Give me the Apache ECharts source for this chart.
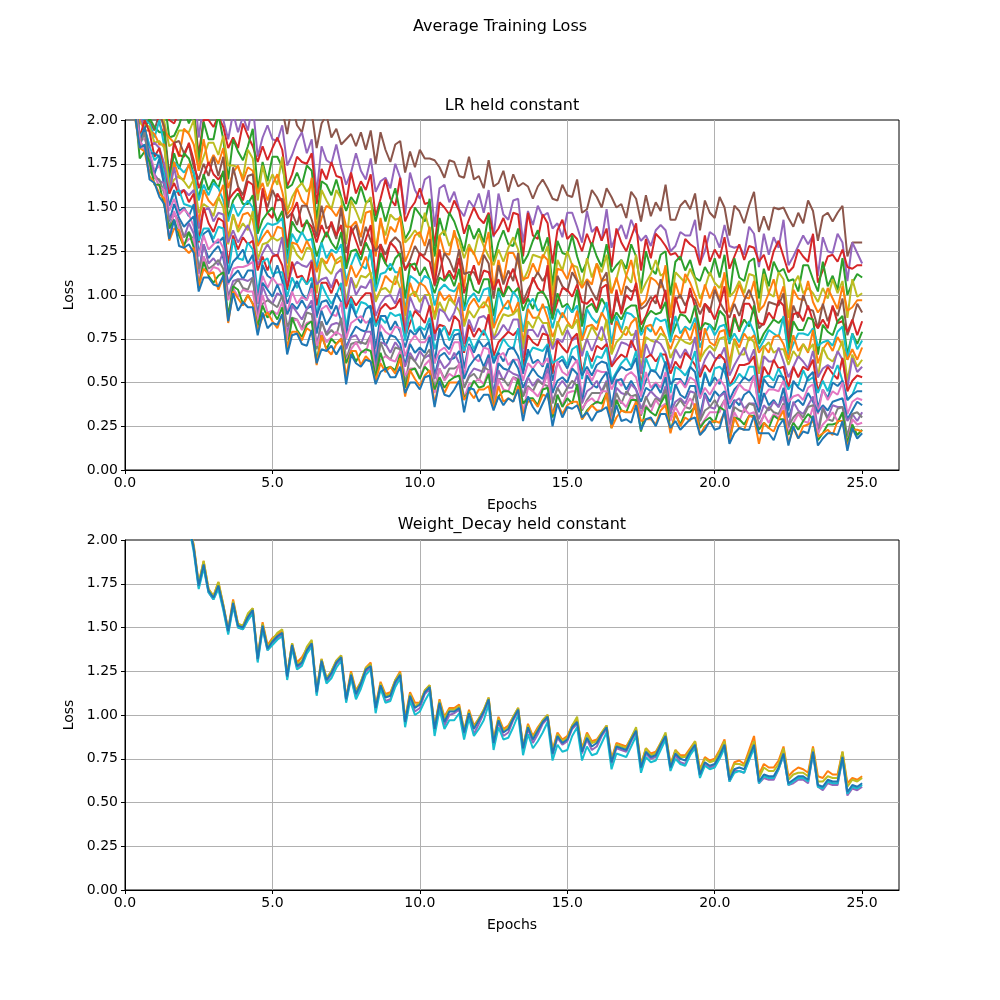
<!DOCTYPE html>
<html>
<head>
<meta charset="utf-8">
<title>Average Training Loss</title>
<script src="https://cdn.jsdelivr.net/npm/echarts@6/dist/echarts.min.js"></script>
<style>
  html, body { margin: 0; padding: 0; background: #fff; }
  #chart { width: 1000px; height: 1000px; }
</style>
</head>
<body>
<div id="chart"></div>
<script>
// loss is logged 6 times per epoch, epochs 0 .. 25 (151 points per run)
const POINTS_PER_EPOCH = 6;

// top panel: LR held constant, one run per weight decay setting
const lrLoss01 = [2.33,2.26,2.36,2.26,2.26,2.36, 2.27,2.24,2.34,2.24,2.22,2.29, 2.36,2.25,2.26,2.09,2.28,2.23, 2.20,2.29,2.16,2.12,2.13,2.21, 2.14,2.09,2.16,2.06,2.05,2.08, 2.01,2.14,2.06,1.92,2.09,1.97, 1.93,2.05,2.04,1.84,1.98,2.03, 1.90,1.95,1.86,1.89,1.92,1.85, 1.93,1.83,1.94,1.75,1.93,1.83, 1.76,1.86,1.88,1.70,1.82,1.73, 1.83,1.78,1.78,1.77,1.73,1.67, 1.77,1.76,1.68,1.67,1.79,1.66, 1.68,1.61,1.77,1.62,1.64,1.71, 1.59,1.69,1.62,1.64,1.62,1.55, 1.62,1.66,1.61,1.55,1.54,1.63, 1.57,1.56,1.66,1.47,1.49,1.60, 1.56,1.50,1.61,1.56,1.50,1.52, 1.44,1.59,1.55,1.42,1.57,1.45, 1.53,1.48,1.63,1.43,1.43,1.51, 1.54,1.49,1.58,1.37,1.54,1.47, 1.44,1.56,1.50,1.34,1.51,1.48, 1.41,1.51,1.59,1.36,1.45,1.37, 1.50,1.49,1.50,1.44,1.39,1.47, 1.41,1.54,1.48,1.31,1.45,1.47, 1.42,1.47,1.51,1.22,1.30,1.30, 1.30];
const lrLoss02 = [2.38,2.28,2.23,2.24,2.25,2.15, 2.24,2.32,2.14,2.02,2.03,2.13, 2.16,2.12,2.21,1.90,2.10,2.00, 2.16,2.11,2.00,1.89,2.04,1.93, 2.02,1.94,2.09,1.79,1.90,1.97, 1.89,1.88,1.97,1.74,1.80,1.88, 1.93,1.81,1.89,1.58,1.85,1.77, 1.75,1.86,1.73,1.63,1.70,1.81, 1.71,1.66,1.78,1.59,1.65,1.67, 1.61,1.75,1.67,1.46,1.70,1.60, 1.55,1.66,1.68,1.39,1.61,1.63, 1.53,1.59,1.49,1.45,1.54,1.50, 1.58,1.47,1.60,1.33,1.58,1.46, 1.43,1.54,1.55,1.30,1.48,1.40, 1.51,1.45,1.47,1.38,1.41,1.33, 1.47,1.47,1.39,1.30,1.48,1.36, 1.39,1.31,1.49,1.27,1.35,1.40, 1.32,1.43,1.36,1.31,1.34,1.28, 1.37,1.40,1.37,1.25,1.28,1.36, 1.34,1.34,1.43,1.18,1.25,1.36, 1.34,1.27,1.40,1.28,1.27,1.28, 1.23,1.39,1.35,1.16,1.35,1.23, 1.33,1.27,1.43,1.17,1.22,1.28, 1.34,1.29,1.34,1.11,1.33,1.25, 1.24,1.35,1.30,1.08,1.30,1.24, 1.18];
const lrLoss03 = [2.25,2.32,2.35,2.11,2.17,2.07, 2.20,2.16,2.10,2.00,1.98,2.05, 2.04,2.17,2.05,1.80,2.00,2.00, 1.96,2.02,1.96,1.84,1.90,1.84, 1.98,1.91,1.85,1.76,1.85,1.77, 1.84,1.90,1.83,1.62,1.69,1.79, 1.76,1.75,1.81,1.52,1.72,1.66, 1.76,1.68,1.67,1.52,1.70,1.58, 1.65,1.60,1.69,1.45,1.55,1.66, 1.55,1.51,1.67,1.42,1.49,1.53, 1.61,1.52,1.53,1.28,1.53,1.50, 1.46,1.54,1.48,1.35,1.43,1.50, 1.44,1.41,1.47,1.34,1.38,1.44, 1.36,1.47,1.46,1.22,1.47,1.34, 1.32,1.46,1.41,1.18,1.37,1.43, 1.32,1.35,1.32,1.25,1.35,1.28, 1.39,1.31,1.38,1.16,1.38,1.30, 1.25,1.33,1.41,1.14,1.32,1.21, 1.35,1.32,1.28,1.23,1.24,1.20, 1.32,1.29,1.27,1.17,1.34,1.19, 1.26,1.21,1.33,1.15,1.22,1.29, 1.20,1.28,1.27,1.19,1.23,1.14, 1.25,1.31,1.22,1.13,1.16,1.26, 1.22,1.19,1.35,1.07,1.14,1.22, 1.23,1.19,1.26,1.16,1.15,1.17, 1.17];
const lrLoss04 = [2.22,2.32,2.31,2.08,2.20,2.06, 2.14,2.11,2.12,1.90,1.91,1.97, 2.06,1.98,2.05,1.76,1.99,1.89, 1.89,2.03,1.89,1.66,1.89,1.82, 1.77,1.85,1.95,1.60,1.76,1.65, 1.79,1.79,1.73,1.61,1.63,1.70, 1.63,1.74,1.71,1.43,1.65,1.63, 1.57,1.66,1.56,1.48,1.56,1.52, 1.62,1.53,1.54,1.42,1.53,1.42, 1.52,1.61,1.47,1.32,1.37,1.50, 1.46,1.42,1.55,1.22,1.44,1.34, 1.47,1.42,1.34,1.25,1.40,1.32, 1.38,1.30,1.46,1.19,1.30,1.37, 1.29,1.28,1.38,1.18,1.23,1.31, 1.37,1.25,1.33,1.05,1.31,1.24, 1.23,1.34,1.22,1.13,1.19,1.30, 1.22,1.16,1.29,1.13,1.17,1.20, 1.15,1.29,1.22,1.03,1.25,1.15, 1.12,1.23,1.25,1.00,1.19,1.22, 1.14,1.20,1.10,1.08,1.16,1.11, 1.21,1.10,1.23,0.99,1.21,1.10, 1.08,1.19,1.21,0.98,1.15,1.05, 1.19,1.13,1.15,1.08,1.09,1.02, 1.17,1.17,1.09,1.02,1.19,1.05, 1.11,1.03,1.21,1.00,1.07,1.12, 1.10];
const lrLoss05 = [2.25,2.32,2.21,2.16,2.10,2.01, 2.09,2.11,1.99,1.85,1.87,1.94, 1.94,1.93,2.00,1.71,1.79,1.87, 1.87,1.80,1.91,1.74,1.74,1.73, 1.67,1.83,1.78,1.54,1.74,1.62, 1.69,1.63,1.79,1.48,1.56,1.61, 1.64,1.59,1.63,1.37,1.60,1.54, 1.49,1.60,1.55,1.29,1.54,1.48, 1.41,1.52,1.56,1.26,1.42,1.34, 1.46,1.43,1.44,1.30,1.33,1.37, 1.33,1.47,1.37,1.13,1.34,1.37, 1.28,1.34,1.31,1.21,1.29,1.23, 1.35,1.28,1.22,1.17,1.26,1.19, 1.27,1.33,1.26,1.08,1.14,1.23, 1.22,1.21,1.28,1.00,1.20,1.14, 1.25,1.17,1.16,1.05,1.21,1.10, 1.18,1.13,1.23,1.01,1.09,1.20, 1.11,1.07,1.23,1.01,1.07,1.12, 1.20,1.11,1.13,0.89,1.13,1.10, 1.07,1.15,1.09,0.98,1.04,1.13, 1.07,1.04,1.11,0.99,1.02,1.08, 1.01,1.12,1.11,0.90,1.12,1.01, 0.99,1.13,1.09,0.87,1.06,1.11, 1.01,1.04,1.01,0.96,1.04,0.98, 1.09,1.01,1.08,0.87,1.09,0.99, 1.01];
const lrLoss06 = [2.24,2.28,2.33,2.03,2.13,2.00, 2.10,2.07,1.94,1.90,1.87,1.79, 1.95,1.92,1.86,1.71,1.89,1.74, 1.80,1.75,1.84,1.61,1.70,1.74, 1.65,1.73,1.71,1.58,1.64,1.54, 1.63,1.69,1.59,1.46,1.50,1.61, 1.54,1.51,1.67,1.34,1.44,1.51, 1.49,1.45,1.51,1.39,1.39,1.42, 1.33,1.47,1.48,1.22,1.44,1.29, 1.39,1.36,1.45,1.19,1.26,1.34, 1.36,1.28,1.39,1.09,1.34,1.24, 1.23,1.37,1.25,1.04,1.27,1.24, 1.17,1.25,1.36,1.03,1.20,1.08, 1.24,1.24,1.18,1.09,1.10,1.18, 1.12,1.23,1.20,0.94,1.15,1.14, 1.09,1.18,1.09,1.04,1.09,1.06, 1.18,1.08,1.09,1.01,1.10,1.00, 1.11,1.20,1.07,0.94,0.97,1.10, 1.08,1.04,1.17,0.87,1.07,0.98, 1.12,1.07,1.00,0.93,1.06,0.98, 1.05,0.97,1.13,0.90,0.97,1.06, 0.99,0.98,1.08,0.91,0.94,1.01, 1.09,0.97,1.05,0.80,1.03,0.98, 0.97,1.08,0.96,0.90,0.94,1.04, 0.98,0.92,1.05,0.91,0.93,0.97, 0.97];
const lrLoss07 = [2.25,2.35,2.23,2.01,2.14,1.99, 1.94,2.04,1.96,1.68,1.87,1.88, 1.81,1.86,1.73,1.66,1.75,1.68, 1.79,1.68,1.79,1.50,1.73,1.62, 1.57,1.68,1.69,1.41,1.59,1.50, 1.60,1.54,1.55,1.44,1.47,1.40, 1.51,1.51,1.43,1.33,1.51,1.38, 1.40,1.32,1.50,1.24,1.35,1.40, 1.28,1.39,1.31,1.25,1.29,1.23, 1.30,1.33,1.30,1.14,1.20,1.28, 1.23,1.23,1.32,1.05,1.13,1.24, 1.20,1.13,1.26,1.12,1.13,1.13, 1.07,1.23,1.18,0.98,1.17,1.06, 1.14,1.08,1.24,0.96,1.03,1.08, 1.13,1.08,1.13,0.88,1.11,1.05, 1.02,1.13,1.08,0.84,1.08,1.02, 0.97,1.08,1.13,0.85,0.99,0.91, 1.05,1.02,1.03,0.92,0.94,0.99, 0.95,1.09,1.00,0.79,0.97,1.00, 0.94,1.00,0.97,0.89,0.95,0.90, 1.03,0.96,0.91,0.87,0.95,0.88, 0.97,1.03,0.96,0.81,0.84,0.96, 0.95,0.94,1.01,0.75,0.94,0.87, 1.00,0.92,0.91,0.81,0.95,0.85, 0.93,0.88,0.98,0.77,0.85,0.95, 0.90];
const lrLoss08 = [2.28,2.20,2.30,2.04,2.01,2.03, 2.07,1.98,1.91,1.67,1.87,1.80, 1.79,1.87,1.77,1.61,1.68,1.76, 1.69,1.66,1.70,1.54,1.58,1.61, 1.54,1.65,1.63,1.36,1.61,1.47, 1.44,1.58,1.53,1.27,1.47,1.53, 1.39,1.42,1.39,1.30,1.40,1.33, 1.42,1.34,1.40,1.15,1.39,1.31, 1.23,1.32,1.40,1.09,1.29,1.18, 1.30,1.27,1.22,1.15,1.18,1.14, 1.24,1.21,1.19,1.06,1.26,1.09, 1.14,1.09,1.21,1.01,1.09,1.17, 1.06,1.14,1.13,1.03,1.09,0.99, 1.09,1.15,1.06,0.95,0.99,1.10, 1.04,1.01,1.17,0.87,0.96,1.04, 1.03,0.99,1.06,0.96,0.95,0.98, 0.91,1.04,1.06,0.83,1.03,0.89, 1.00,0.97,1.07,0.83,0.88,0.96, 1.00,0.92,1.03,0.77,0.99,0.90, 0.90,1.04,0.93,0.74,0.95,0.92, 0.86,0.94,1.05,0.76,0.89,0.79, 0.95,0.95,0.90,0.84,0.83,0.90, 0.86,0.97,0.94,0.71,0.89,0.90, 0.85,0.94,0.85,0.81,0.86,0.81, 0.94,0.84,0.85,0.79,0.86,0.77, 0.85];
const lrLoss09 = [2.32,2.35,2.18,2.02,1.95,2.01, 1.96,1.93,1.93,1.65,1.81,1.72, 1.81,1.78,1.69,1.55,1.69,1.60, 1.66,1.61,1.71,1.44,1.54,1.58, 1.52,1.52,1.57,1.35,1.43,1.47, 1.50,1.42,1.48,1.21,1.42,1.37, 1.35,1.43,1.35,1.22,1.30,1.36, 1.30,1.26,1.36,1.15,1.25,1.26, 1.20,1.30,1.24,1.05,1.24,1.18, 1.14,1.21,1.24,0.98,1.17,1.18, 1.11,1.16,1.09,1.01,1.10,1.08, 1.12,1.05,1.15,0.91,1.12,1.03, 1.01,1.09,1.09,0.88,1.04,0.99, 1.05,1.01,1.04,0.91,0.98,0.92, 1.01,1.02,0.97,0.86,1.01,0.93, 0.95,0.90,1.03,0.82,0.93,0.95, 0.90,0.98,0.93,0.84,0.90,0.86, 0.92,0.94,0.94,0.79,0.87,0.91, 0.89,0.90,0.96,0.75,0.82,0.89, 0.88,0.84,0.94,0.80,0.84,0.83, 0.80,0.91,0.88,0.72,0.87,0.80, 0.86,0.82,0.94,0.72,0.78,0.82, 0.86,0.84,0.87,0.68,0.85,0.80, 0.80,0.87,0.86,0.66,0.83,0.79, 0.77,0.85,0.88,0.66,0.78,0.72, 0.79];
const lrLoss10 = [2.33,2.26,2.22,2.02,2.00,1.98, 1.90,2.00,1.85,1.63,1.76,1.73, 1.70,1.74,1.70,1.54,1.63,1.57, 1.64,1.61,1.54,1.42,1.52,1.45, 1.50,1.54,1.50,1.29,1.37,1.41, 1.40,1.41,1.44,1.18,1.35,1.30, 1.36,1.31,1.32,1.15,1.30,1.21, 1.26,1.24,1.29,1.08,1.17,1.24, 1.17,1.15,1.26,1.02,1.12,1.13, 1.18,1.13,1.13,0.91,1.11,1.09, 1.06,1.11,1.09,0.94,1.03,1.06, 1.03,1.02,1.06,0.91,0.98,1.01, 0.96,1.03,1.04,0.82,1.02,0.93, 0.92,1.02,0.98,0.79,0.94,0.98, 0.91,0.93,0.93,0.81,0.92,0.87, 0.94,0.90,0.94,0.74,0.92,0.87, 0.84,0.89,0.96,0.72,0.88,0.80, 0.90,0.89,0.86,0.77,0.82,0.79, 0.87,0.85,0.86,0.73,0.88,0.78, 0.82,0.80,0.87,0.70,0.78,0.83, 0.77,0.82,0.83,0.73,0.78,0.73, 0.80,0.85,0.79,0.69,0.74,0.80, 0.78,0.76,0.88,0.65,0.72,0.78, 0.78,0.77,0.81,0.71,0.73,0.74, 0.71,0.79,0.82,0.63,0.78,0.69, 0.74];
const lrLoss11 = [2.32,2.26,2.24,2.00,1.94,1.94, 1.92,1.86,1.86,1.58,1.76,1.67, 1.66,1.75,1.64,1.41,1.60,1.54, 1.51,1.56,1.63,1.32,1.46,1.38, 1.46,1.47,1.43,1.28,1.33,1.37, 1.32,1.39,1.38,1.12,1.30,1.29, 1.24,1.31,1.25,1.13,1.21,1.18, 1.24,1.18,1.20,1.05,1.17,1.10, 1.15,1.22,1.12,0.97,1.03,1.11, 1.08,1.06,1.16,0.88,1.07,0.99, 1.07,1.05,1.00,0.88,1.02,0.97, 1.00,0.95,1.07,0.83,0.94,0.98, 0.93,0.93,0.99,0.81,0.88,0.93, 0.97,0.89,0.96,0.72,0.92,0.87, 0.87,0.95,0.87,0.76,0.83,0.90, 0.85,0.81,0.91,0.74,0.82,0.83, 0.80,0.90,0.85,0.67,0.85,0.79, 0.77,0.84,0.87,0.64,0.82,0.83, 0.77,0.82,0.76,0.69,0.77,0.75, 0.81,0.74,0.84,0.62,0.81,0.73, 0.71,0.79,0.80,0.61,0.75,0.70, 0.78,0.74,0.77,0.67,0.71,0.67, 0.76,0.77,0.72,0.63,0.77,0.68, 0.72,0.67,0.80,0.61,0.69,0.73, 0.68,0.76,0.71,0.63,0.69,0.63, 0.70];
const lrLoss12 = [2.31,2.29,2.20,1.98,1.98,1.96, 1.87,1.88,1.84,1.61,1.66,1.68, 1.65,1.61,1.66,1.47,1.52,1.50, 1.45,1.56,1.50,1.29,1.46,1.36, 1.41,1.37,1.48,1.20,1.29,1.30, 1.33,1.31,1.33,1.09,1.29,1.23, 1.20,1.27,1.26,1.01,1.21,1.15, 1.12,1.20,1.22,0.96,1.10,1.04, 1.11,1.10,1.13,0.96,1.03,1.04, 1.01,1.11,1.04,0.83,1.00,1.02, 0.96,1.00,1.00,0.86,0.96,0.90, 0.98,0.95,0.91,0.82,0.91,0.87, 0.92,0.96,0.93,0.75,0.83,0.89, 0.88,0.89,0.92,0.69,0.85,0.81, 0.88,0.84,0.84,0.70,0.85,0.77, 0.83,0.81,0.86,0.67,0.75,0.82, 0.77,0.74,0.86,0.66,0.73,0.76, 0.82,0.77,0.78,0.58,0.76,0.74, 0.73,0.78,0.76,0.64,0.70,0.75, 0.73,0.72,0.75,0.63,0.68,0.71, 0.68,0.75,0.76,0.57,0.74,0.66, 0.66,0.76,0.73,0.55,0.70,0.73, 0.67,0.69,0.69,0.60,0.68,0.64, 0.72,0.68,0.72,0.53,0.70,0.64, 0.62,0.67,0.74,0.51,0.66,0.59, 0.63];
const lrLoss13 = [2.34,2.29,2.15,2.03,1.95,1.85, 1.87,1.84,1.75,1.58,1.73,1.59, 1.60,1.57,1.60,1.38,1.48,1.50, 1.42,1.47,1.46,1.30,1.37,1.30, 1.35,1.40,1.33,1.17,1.24,1.29, 1.24,1.22,1.33,1.05,1.15,1.19, 1.17,1.16,1.20,1.06,1.09,1.10, 1.04,1.12,1.15,0.92,1.10,1.00, 1.05,1.04,1.09,0.88,0.95,0.99, 1.00,0.95,1.04,0.79,0.99,0.92, 0.90,1.00,0.93,0.74,0.92,0.90, 0.85,0.90,0.99,0.72,0.86,0.79, 0.87,0.88,0.85,0.75,0.78,0.83, 0.79,0.86,0.86,0.64,0.80,0.80, 0.76,0.83,0.77,0.69,0.75,0.73, 0.80,0.74,0.76,0.65,0.75,0.68, 0.75,0.82,0.73,0.60,0.66,0.73, 0.72,0.70,0.80,0.55,0.72,0.65, 0.74,0.72,0.67,0.58,0.69,0.64, 0.69,0.64,0.76,0.55,0.63,0.68, 0.64,0.64,0.70,0.54,0.60,0.65, 0.70,0.62,0.69,0.47,0.65,0.62, 0.62,0.70,0.62,0.53,0.59,0.65, 0.62,0.58,0.68,0.53,0.58,0.60, 0.58,0.68,0.63,0.47,0.64,0.56, 0.59];
const lrLoss14 = [2.26,2.28,2.21,1.90,2.00,1.93, 1.79,1.84,1.69,1.58,1.64,1.57, 1.60,1.53,1.58,1.30,1.50,1.41, 1.36,1.44,1.42,1.18,1.34,1.26, 1.33,1.29,1.31,1.14,1.22,1.14, 1.22,1.23,1.17,1.03,1.19,1.10, 1.11,1.06,1.19,0.94,1.07,1.07, 1.01,1.09,1.03,0.93,0.99,0.94, 0.98,1.01,1.01,0.83,0.92,0.95, 0.92,0.93,0.98,0.76,0.84,0.91, 0.88,0.84,0.94,0.78,0.83,0.82, 0.77,0.88,0.85,0.67,0.83,0.76, 0.81,0.77,0.89,0.65,0.73,0.76, 0.79,0.77,0.80,0.59,0.77,0.73, 0.71,0.78,0.77,0.55,0.74,0.70, 0.67,0.75,0.78,0.55,0.67,0.62, 0.71,0.69,0.72,0.59,0.63,0.66, 0.64,0.74,0.68,0.49,0.64,0.66, 0.62,0.66,0.66,0.55,0.62,0.58, 0.67,0.64,0.60,0.53,0.60,0.56, 0.62,0.66,0.63,0.48,0.53,0.60, 0.60,0.61,0.65,0.44,0.59,0.54, 0.63,0.58,0.59,0.47,0.59,0.53, 0.59,0.57,0.63,0.45,0.53,0.59, 0.55,0.52,0.64,0.45,0.51,0.54, 0.53];
const lrLoss15 = [2.36,2.25,2.15,1.90,1.95,1.85, 1.77,1.80,1.69,1.51,1.58,1.60, 1.52,1.51,1.50,1.31,1.38,1.38, 1.32,1.39,1.38,1.12,1.32,1.21, 1.20,1.30,1.26,1.01,1.19,1.21, 1.12,1.13,1.13,0.99,1.10,1.04, 1.10,1.06,1.10,0.87,1.06,1.00, 0.95,1.00,1.07,0.81,0.98,0.89, 0.96,0.95,0.92,0.82,0.87,0.84, 0.90,0.88,0.89,0.74,0.91,0.79, 0.82,0.80,0.87,0.69,0.77,0.82, 0.74,0.80,0.80,0.68,0.76,0.69, 0.75,0.80,0.74,0.63,0.68,0.75, 0.71,0.69,0.81,0.57,0.65,0.70, 0.69,0.68,0.72,0.61,0.63,0.65, 0.60,0.69,0.71,0.52,0.68,0.58, 0.65,0.64,0.70,0.51,0.56,0.61, 0.64,0.59,0.68,0.46,0.64,0.57, 0.57,0.67,0.60,0.44,0.59,0.57, 0.54,0.59,0.68,0.43,0.56,0.48, 0.58,0.59,0.56,0.48,0.50,0.55, 0.52,0.59,0.59,0.39,0.53,0.54, 0.51,0.58,0.52,0.46,0.50,0.48, 0.57,0.51,0.53,0.44,0.51,0.45, 0.53,0.60,0.51,0.40,0.43,0.50, 0.49];
const lrLoss16 = [2.31,2.23,2.22,1.87,1.96,1.81, 1.81,1.79,1.64,1.51,1.60,1.48, 1.50,1.45,1.52,1.23,1.35,1.37, 1.30,1.30,1.33,1.12,1.19,1.22, 1.26,1.18,1.23,0.95,1.17,1.11, 1.09,1.17,1.08,0.95,1.02,1.08, 1.01,0.97,1.07,0.88,0.96,0.97, 0.92,1.01,0.96,0.77,0.95,0.88, 0.84,0.92,0.94,0.69,0.88,0.88, 0.80,0.85,0.79,0.70,0.80,0.77, 0.81,0.75,0.84,0.61,0.81,0.72, 0.69,0.77,0.78,0.58,0.72,0.67, 0.74,0.70,0.73,0.61,0.67,0.62, 0.69,0.70,0.65,0.55,0.69,0.61, 0.63,0.59,0.71,0.51,0.61,0.63, 0.58,0.65,0.62,0.54,0.59,0.54, 0.60,0.62,0.61,0.49,0.55,0.59, 0.57,0.58,0.64,0.44,0.51,0.57, 0.56,0.52,0.62,0.49,0.52,0.52, 0.48,0.59,0.56,0.41,0.55,0.48, 0.53,0.49,0.61,0.40,0.46,0.49, 0.53,0.51,0.54,0.36,0.52,0.48, 0.47,0.54,0.53,0.34,0.51,0.47, 0.45,0.53,0.56,0.35,0.46,0.41, 0.50,0.48,0.51,0.40,0.43,0.45, 0.45];
const lrLoss17 = [2.28,2.32,2.12,1.89,1.89,1.82, 1.71,1.74,1.64,1.48,1.55,1.46, 1.49,1.46,1.39,1.22,1.34,1.26, 1.29,1.32,1.27,1.06,1.15,1.16, 1.16,1.17,1.19,0.95,1.11,1.04, 1.10,1.06,1.06,0.89,1.02,0.95, 0.99,0.97,1.04,0.81,0.92,0.94, 0.89,0.88,0.96,0.75,0.84,0.86, 0.88,0.84,0.86,0.64,0.83,0.79, 0.77,0.82,0.81,0.65,0.73,0.77, 0.73,0.73,0.77,0.61,0.68,0.70, 0.66,0.73,0.73,0.53,0.71,0.64, 0.62,0.70,0.69,0.50,0.65,0.67, 0.60,0.63,0.63,0.51,0.61,0.58, 0.62,0.60,0.64,0.44,0.62,0.56, 0.54,0.59,0.63,0.42,0.57,0.51, 0.57,0.56,0.56,0.46,0.52,0.48, 0.54,0.56,0.53,0.42,0.56,0.47, 0.50,0.47,0.56,0.40,0.48,0.51, 0.47,0.53,0.51,0.41,0.47,0.43, 0.48,0.52,0.48,0.38,0.43,0.49, 0.46,0.45,0.54,0.34,0.42,0.46, 0.46,0.45,0.51,0.39,0.42,0.43, 0.40,0.47,0.49,0.32,0.46,0.40, 0.45,0.43,0.50,0.32,0.39,0.41, 0.40];
const lrLoss18 = [2.32,2.23,2.18,1.85,1.94,1.78, 1.69,1.78,1.62,1.42,1.52,1.44, 1.39,1.42,1.45,1.13,1.29,1.21, 1.25,1.28,1.21,1.07,1.11,1.14, 1.09,1.14,1.14,0.88,1.07,1.03, 0.99,1.06,0.99,0.89,0.95,0.92, 0.97,0.92,0.94,0.78,0.91,0.83, 0.88,0.94,0.85,0.70,0.77,0.82, 0.80,0.79,0.87,0.61,0.79,0.71, 0.77,0.76,0.72,0.60,0.72,0.67, 0.70,0.67,0.76,0.54,0.65,0.67, 0.63,0.64,0.68,0.52,0.59,0.63, 0.66,0.59,0.66,0.43,0.61,0.58, 0.57,0.63,0.58,0.47,0.53,0.58, 0.54,0.52,0.61,0.44,0.51,0.53, 0.50,0.58,0.55,0.39,0.54,0.49, 0.47,0.52,0.56,0.36,0.51,0.52, 0.46,0.51,0.46,0.39,0.47,0.45, 0.49,0.44,0.53,0.32,0.49,0.43, 0.41,0.48,0.48,0.31,0.44,0.39, 0.45,0.42,0.45,0.35,0.40,0.37, 0.43,0.45,0.41,0.33,0.44,0.37, 0.40,0.36,0.47,0.30,0.38,0.40, 0.37,0.44,0.39,0.33,0.37,0.34, 0.39,0.40,0.41,0.29,0.34,0.39, 0.37];
const lrLoss19 = [2.30,2.25,2.13,1.89,1.82,1.78, 1.69,1.65,1.64,1.43,1.47,1.42, 1.33,1.41,1.35,1.12,1.29,1.18, 1.21,1.17,1.25,0.99,1.08,1.09, 1.09,1.08,1.10,0.86,1.05,0.98, 0.95,1.01,0.99,0.77,0.94,0.90, 0.86,0.92,0.97,0.71,0.85,0.78, 0.83,0.84,0.83,0.69,0.76,0.77, 0.72,0.79,0.79,0.57,0.73,0.72, 0.67,0.73,0.69,0.59,0.67,0.62, 0.68,0.64,0.66,0.52,0.63,0.58, 0.61,0.67,0.61,0.47,0.54,0.58, 0.57,0.56,0.64,0.42,0.57,0.51, 0.57,0.55,0.54,0.42,0.53,0.48, 0.52,0.49,0.58,0.39,0.47,0.51, 0.47,0.47,0.54,0.38,0.45,0.47, 0.51,0.45,0.51,0.31,0.47,0.44, 0.43,0.49,0.46,0.35,0.41,0.45, 0.42,0.40,0.48,0.33,0.39,0.41, 0.38,0.45,0.44,0.28,0.43,0.36, 0.35,0.42,0.44,0.26,0.39,0.41, 0.35,0.38,0.38,0.29,0.37,0.34, 0.39,0.36,0.42,0.24,0.39,0.34, 0.32,0.37,0.42,0.23,0.36,0.30, 0.37,0.36,0.36,0.28,0.32,0.28, 0.33];
const lrLoss20 = [2.32,2.23,2.12,1.86,1.93,1.71, 1.67,1.66,1.58,1.39,1.46,1.42, 1.33,1.36,1.31,1.15,1.22,1.15, 1.17,1.20,1.15,0.98,1.05,1.09, 1.04,1.03,1.10,0.85,0.95,0.97, 0.95,0.93,1.00,0.82,0.87,0.86, 0.81,0.90,0.89,0.69,0.85,0.77, 0.80,0.77,0.87,0.63,0.72,0.73, 0.73,0.72,0.77,0.54,0.73,0.66, 0.63,0.70,0.69,0.49,0.65,0.62, 0.58,0.65,0.69,0.46,0.58,0.52, 0.58,0.58,0.60,0.47,0.53,0.55, 0.51,0.59,0.57,0.38,0.52,0.52, 0.48,0.53,0.52,0.42,0.48,0.45, 0.51,0.49,0.48,0.38,0.47,0.42, 0.47,0.51,0.48,0.34,0.40,0.44, 0.44,0.44,0.50,0.30,0.44,0.38, 0.45,0.42,0.43,0.31,0.42,0.36, 0.41,0.39,0.46,0.29,0.36,0.40, 0.36,0.35,0.44,0.28,0.34,0.36, 0.40,0.35,0.40,0.21,0.36,0.34, 0.33,0.38,0.37,0.26,0.31,0.36, 0.33,0.32,0.38,0.25,0.30,0.33, 0.30,0.36,0.37,0.20,0.35,0.29, 0.28,0.35,0.36,0.19,0.32,0.33, 0.30];
const lrLoss21 = [2.28,2.26,2.08,1.88,1.83,1.73, 1.68,1.62,1.60,1.32,1.48,1.38, 1.29,1.32,1.32,1.06,1.22,1.12, 1.16,1.15,1.11,0.97,1.04,0.99, 1.03,1.02,1.02,0.85,1.00,0.90, 0.91,0.89,0.96,0.75,0.85,0.86, 0.80,0.84,0.85,0.71,0.79,0.73, 0.76,0.79,0.77,0.62,0.69,0.73, 0.68,0.67,0.77,0.53,0.63,0.65, 0.63,0.62,0.68,0.54,0.58,0.58, 0.53,0.60,0.63,0.44,0.58,0.51, 0.55,0.53,0.61,0.41,0.49,0.50, 0.52,0.49,0.57,0.35,0.52,0.46, 0.45,0.53,0.50,0.33,0.47,0.45, 0.42,0.47,0.55,0.31,0.43,0.37, 0.44,0.45,0.45,0.35,0.39,0.41, 0.38,0.45,0.45,0.27,0.40,0.39, 0.36,0.42,0.39,0.32,0.37,0.33, 0.40,0.36,0.38,0.28,0.36,0.31, 0.36,0.41,0.36,0.25,0.29,0.33, 0.33,0.33,0.40,0.21,0.33,0.28, 0.35,0.32,0.33,0.23,0.32,0.27, 0.32,0.30,0.37,0.21,0.27,0.32, 0.28,0.27,0.36,0.21,0.26,0.29, 0.33,0.28,0.32,0.15,0.29,0.26, 0.27];
const lrLoss22 = [2.29,2.23,2.08,1.78,1.82,1.76, 1.63,1.63,1.51,1.38,1.43,1.34, 1.28,1.36,1.27,1.04,1.19,1.11, 1.07,1.11,1.13,0.88,1.05,1.03, 0.95,1.00,0.95,0.82,0.94,0.87, 0.91,0.86,0.93,0.68,0.87,0.80, 0.76,0.83,0.85,0.62,0.77,0.69, 0.75,0.72,0.75,0.61,0.68,0.62, 0.67,0.69,0.68,0.53,0.67,0.58, 0.59,0.57,0.66,0.47,0.57,0.58, 0.52,0.59,0.56,0.46,0.53,0.47, 0.51,0.53,0.54,0.41,0.45,0.51, 0.47,0.48,0.55,0.35,0.42,0.45, 0.45,0.43,0.52,0.38,0.41,0.41, 0.37,0.46,0.47,0.30,0.43,0.36, 0.41,0.38,0.49,0.29,0.34,0.37, 0.39,0.38,0.44,0.24,0.40,0.34, 0.33,0.40,0.40,0.22,0.36,0.33, 0.31,0.38,0.43,0.22,0.32,0.26, 0.33,0.33,0.36,0.24,0.28,0.30, 0.27,0.36,0.34,0.17,0.30,0.29, 0.26,0.31,0.31,0.23,0.27,0.24, 0.31,0.29,0.29,0.20,0.27,0.23, 0.28,0.32,0.29,0.17,0.21,0.26, 0.26,0.27,0.33,0.15,0.26,0.20, 0.23];
const lrLoss23 = [2.34,2.24,2.02,1.84,1.82,1.68, 1.64,1.58,1.55,1.31,1.38,1.37, 1.27,1.24,1.27,1.05,1.15,1.12, 1.13,1.03,1.10,0.84,1.02,0.98, 0.94,1.00,0.95,0.80,0.87,0.90, 0.85,0.81,0.89,0.70,0.79,0.79, 0.74,0.81,0.79,0.60,0.77,0.69, 0.66,0.72,0.75,0.53,0.68,0.68, 0.60,0.65,0.62,0.51,0.61,0.56, 0.59,0.55,0.64,0.42,0.57,0.52, 0.48,0.54,0.57,0.38,0.51,0.44, 0.50,0.50,0.50,0.40,0.45,0.41, 0.46,0.46,0.48,0.35,0.48,0.39, 0.41,0.39,0.48,0.32,0.39,0.40, 0.36,0.43,0.42,0.32,0.38,0.32, 0.37,0.39,0.39,0.29,0.33,0.37, 0.34,0.34,0.44,0.24,0.30,0.34, 0.33,0.33,0.39,0.28,0.29,0.29, 0.26,0.34,0.37,0.21,0.33,0.25, 0.30,0.28,0.38,0.20,0.25,0.27, 0.28,0.27,0.33,0.16,0.30,0.24, 0.23,0.31,0.30,0.15,0.27,0.24, 0.22,0.29,0.34,0.15,0.24,0.18, 0.25,0.26,0.28,0.19,0.21,0.23, 0.20,0.28,0.28,0.13,0.23,0.23, 0.22];
const lrLoss24 = [2.28,2.20,2.03,1.84,1.86,1.66, 1.64,1.56,1.52,1.32,1.43,1.28, 1.27,1.29,1.24,1.02,1.10,1.10, 1.06,1.05,1.11,0.85,1.01,0.91, 0.96,0.93,0.93,0.77,0.90,0.81, 0.84,0.83,0.89,0.66,0.77,0.78, 0.72,0.71,0.80,0.61,0.69,0.68, 0.71,0.66,0.71,0.49,0.66,0.61, 0.59,0.63,0.62,0.49,0.56,0.58, 0.53,0.53,0.59,0.44,0.50,0.50, 0.46,0.53,0.54,0.36,0.51,0.43, 0.42,0.46,0.51,0.33,0.47,0.46, 0.39,0.43,0.43,0.34,0.42,0.37, 0.41,0.39,0.46,0.28,0.42,0.36, 0.32,0.38,0.44,0.25,0.38,0.30, 0.36,0.35,0.37,0.30,0.33,0.28, 0.33,0.34,0.36,0.26,0.37,0.28, 0.29,0.27,0.37,0.23,0.29,0.30, 0.25,0.32,0.32,0.24,0.28,0.23, 0.26,0.29,0.30,0.20,0.23,0.28, 0.23,0.24,0.34,0.15,0.21,0.24, 0.23,0.23,0.31,0.21,0.21,0.21, 0.17,0.25,0.29,0.14,0.25,0.18, 0.22,0.21,0.31,0.14,0.18,0.21, 0.21,0.20,0.28,0.11,0.24,0.18, 0.21];

const lrRuns = [lrLoss01, lrLoss02, lrLoss03, lrLoss04, lrLoss05, lrLoss06, lrLoss07, lrLoss08,
  lrLoss09, lrLoss10, lrLoss11, lrLoss12, lrLoss13, lrLoss14, lrLoss15, lrLoss16,
  lrLoss17, lrLoss18, lrLoss19, lrLoss20, lrLoss21, lrLoss22, lrLoss23, lrLoss24];
const lrColors = ['#8c564b', '#9467bd', '#d62728', '#2ca02c', '#bcbd22', '#ff7f0e', '#8c564b', '#d62728',
  '#2ca02c', '#17becf', '#ff7f0e', '#bcbd22', '#9467bd', '#d62728', '#17becf', '#1f77b4',
  '#e377c2', '#1f77b4', '#9467bd', '#7f7f7f', '#e377c2', '#2ca02c', '#ff7f0e', '#1f77b4'];

// bottom panel: weight decay held constant, runs almost on top of each other
const wdLoss01 = [2.30,2.30,2.30,2.30,2.30,2.29, 2.29,2.28,2.27,2.26,2.24,2.21, 2.17,2.11,1.97,1.75,1.88,1.72, 1.68,1.76,1.63,1.49,1.66,1.52, 1.51,1.57,1.61,1.33,1.53,1.40, 1.44,1.46,1.48,1.23,1.41,1.30, 1.33,1.38,1.42,1.14,1.32,1.21, 1.25,1.31,1.34,1.10,1.25,1.14, 1.19,1.27,1.30,1.05,1.19,1.12, 1.13,1.20,1.25,0.98,1.13,1.07, 1.07,1.14,1.17,0.93,1.09,0.99, 1.04,1.04,1.06,0.91,1.03,0.94, 0.98,1.03,1.10,0.86,0.99,0.92, 0.94,0.99,1.04,0.82,0.95,0.88, 0.93,0.97,1.00,0.80,0.90,0.86, 0.88,0.94,0.97,0.81,0.90,0.85, 0.86,0.90,0.94,0.75,0.84,0.83, 0.82,0.87,0.92,0.72,0.81,0.78, 0.79,0.84,0.89,0.72,0.80,0.77, 0.77,0.81,0.85,0.69,0.76,0.74, 0.75,0.80,0.86,0.66,0.73,0.74, 0.72,0.80,0.88,0.66,0.72,0.70, 0.70,0.74,0.82,0.65,0.68,0.70, 0.69,0.67,0.82,0.65,0.64,0.68, 0.66,0.66,0.79,0.61,0.64,0.63, 0.65];
const wdLoss02 = [2.30,2.30,2.30,2.30,2.30,2.29, 2.29,2.28,2.27,2.26,2.24,2.21, 2.16,2.10,1.95,1.73,1.85,1.70, 1.66,1.73,1.61,1.47,1.63,1.50, 1.49,1.55,1.59,1.31,1.50,1.37, 1.41,1.44,1.46,1.21,1.39,1.27, 1.29,1.36,1.40,1.12,1.30,1.19, 1.23,1.29,1.32,1.08,1.22,1.10, 1.16,1.25,1.27,1.03,1.16,1.08, 1.09,1.18,1.22,0.95,1.10,1.02, 1.04,1.12,1.15,0.91,1.06,0.94, 1.00,1.01,1.03,0.89,1.00,0.89, 0.95,1.01,1.08,0.83,0.96,0.88, 0.90,0.97,1.02,0.80,0.92,0.84, 0.89,0.95,0.98,0.77,0.87,0.83, 0.85,0.92,0.95,0.78,0.86,0.80, 0.82,0.88,0.92,0.72,0.81,0.80, 0.79,0.85,0.90,0.69,0.78,0.75, 0.76,0.82,0.87,0.69,0.77,0.73, 0.72,0.78,0.82,0.65,0.72,0.70, 0.71,0.76,0.82,0.62,0.68,0.68, 0.67,0.75,0.82,0.61,0.64,0.63, 0.63,0.69,0.77,0.60,0.61,0.63, 0.63,0.61,0.78,0.59,0.57,0.61, 0.60,0.60,0.75,0.54,0.58,0.57, 0.59];
const wdLoss03 = [2.30,2.30,2.30,2.30,2.30,2.29, 2.29,2.28,2.27,2.26,2.24,2.21, 2.16,2.10,1.96,1.75,1.88,1.72, 1.68,1.76,1.63,1.48,1.65,1.52, 1.51,1.58,1.61,1.33,1.52,1.39, 1.43,1.47,1.49,1.23,1.41,1.29, 1.31,1.39,1.43,1.14,1.32,1.21, 1.25,1.31,1.34,1.09,1.24,1.13, 1.19,1.27,1.29,1.04,1.18,1.11, 1.12,1.20,1.24,0.97,1.12,1.05, 1.07,1.14,1.17,0.93,1.08,0.98, 1.03,1.03,1.05,0.91,1.02,0.93, 0.98,1.03,1.10,0.85,0.98,0.91, 0.93,0.99,1.04,0.82,0.94,0.87, 0.92,0.97,1.00,0.79,0.89,0.85, 0.87,0.94,0.99,0.80,0.89,0.84, 0.85,0.90,0.94,0.74,0.83,0.82, 0.81,0.87,0.93,0.71,0.81,0.77, 0.78,0.84,0.90,0.71,0.80,0.76, 0.76,0.80,0.85,0.68,0.75,0.73, 0.74,0.79,0.85,0.65,0.72,0.72, 0.71,0.78,0.85,0.64,0.70,0.68, 0.68,0.72,0.81,0.63,0.66,0.67, 0.67,0.65,0.81,0.62,0.62,0.65, 0.64,0.64,0.79,0.59,0.63,0.62, 0.64];
const wdLoss04 = [2.30,2.30,2.30,2.30,2.30,2.29, 2.29,2.28,2.27,2.26,2.24,2.21, 2.15,2.08,1.93,1.72,1.84,1.70, 1.66,1.72,1.60,1.46,1.62,1.50, 1.49,1.54,1.58,1.30,1.49,1.37, 1.40,1.43,1.45,1.20,1.38,1.26, 1.28,1.35,1.39,1.11,1.29,1.18, 1.21,1.27,1.31,1.07,1.21,1.09, 1.15,1.23,1.26,1.01,1.15,1.07, 1.08,1.16,1.21,0.93,1.08,1.00, 1.02,1.08,1.13,0.88,1.03,0.92, 0.97,0.97,1.01,0.86,0.98,0.88, 0.92,0.97,1.06,0.80,0.93,0.86, 0.87,0.93,1.00,0.77,0.89,0.81, 0.85,0.90,0.96,0.74,0.83,0.79, 0.80,0.88,0.93,0.74,0.82,0.77, 0.78,0.84,0.90,0.69,0.78,0.77, 0.76,0.82,0.88,0.67,0.76,0.73, 0.74,0.80,0.86,0.68,0.75,0.72, 0.71,0.77,0.81,0.64,0.71,0.69, 0.70,0.75,0.81,0.62,0.67,0.68, 0.67,0.74,0.81,0.61,0.65,0.64, 0.64,0.69,0.77,0.60,0.62,0.64, 0.64,0.62,0.78,0.59,0.58,0.62, 0.61,0.61,0.75,0.55,0.59,0.58, 0.60];
const wdLoss05 = [2.30,2.30,2.30,2.30,2.30,2.29, 2.29,2.28,2.27,2.26,2.24,2.21, 2.16,2.10,1.95,1.74,1.86,1.71, 1.67,1.74,1.62,1.48,1.64,1.51, 1.50,1.56,1.60,1.32,1.51,1.38, 1.42,1.45,1.47,1.22,1.40,1.28, 1.30,1.37,1.41,1.13,1.31,1.20, 1.24,1.30,1.33,1.09,1.23,1.12, 1.18,1.26,1.28,1.04,1.17,1.10, 1.11,1.19,1.23,0.96,1.11,1.04, 1.06,1.13,1.16,0.92,1.07,0.96, 1.02,1.02,1.04,0.90,1.01,0.92, 0.97,1.02,1.09,0.84,0.97,0.90, 0.92,0.98,1.03,0.81,0.93,0.86, 0.91,0.96,0.99,0.78,0.88,0.84, 0.86,0.93,0.96,0.79,0.87,0.82, 0.84,0.89,0.93,0.73,0.82,0.81, 0.80,0.86,0.91,0.70,0.79,0.76, 0.77,0.83,0.88,0.70,0.78,0.75, 0.74,0.79,0.83,0.66,0.73,0.71, 0.72,0.77,0.83,0.63,0.69,0.70, 0.69,0.76,0.83,0.62,0.66,0.65, 0.65,0.70,0.78,0.61,0.63,0.65, 0.65,0.63,0.79,0.60,0.59,0.63, 0.62,0.62,0.76,0.56,0.60,0.59, 0.61];

const wdRuns = [wdLoss01, wdLoss02, wdLoss03, wdLoss04, wdLoss05];
const wdColors = ['#ff7f0e', '#9467bd', '#bcbd22', '#17becf', '#1f77b4'];

const xTicks = [0, 5, 10, 15, 20, 25];
const xMax = 26.25;
const yMax = 2;
const yStep = 0.25;

const FONT = 'DejaVu Sans';

function toPoints(values) {
  return values.map((v, i) => [i / POINTS_PER_EPOCH, v]);
}

function makeXAxis(gridIndex) {
  return {
    type: 'value',
    gridIndex: gridIndex,
    min: 0,
    max: xMax,
    interval: 5,
    name: 'Epochs',
    nameLocation: 'middle',
    nameGap: 28,
    nameTextStyle: { fontFamily: FONT, fontSize: 14, color: '#000' },
    axisLine: { show: true, onZero: false, lineStyle: { color: '#000', width: 1 } },
    axisTick: { show: true, length: 4, customValues: xTicks, lineStyle: { color: '#000', width: 1 } },
    axisLabel: {
      fontFamily: FONT, fontSize: 14, color: '#000', margin: 6, customValues: xTicks,
      formatter: (v) => (xTicks.indexOf(v) >= 0 ? v.toFixed(1) : '')
    },
    splitLine: { show: true, showMinLine: false, showMaxLine: false, lineStyle: { color: '#b0b0b0', width: 1 } }
  };
}

function makeYAxis(gridIndex) {
  return {
    type: 'value',
    gridIndex: gridIndex,
    min: 0,
    max: yMax,
    interval: yStep,
    name: 'Loss',
    nameLocation: 'middle',
    nameGap: 46,
    nameTextStyle: { fontFamily: FONT, fontSize: 14, color: '#000' },
    axisLine: { show: true, lineStyle: { color: '#000', width: 1 } },
    axisTick: { show: true, length: 4, lineStyle: { color: '#000', width: 1 } },
    axisLabel: { fontFamily: FONT, fontSize: 14, color: '#000', margin: 7, formatter: (v) => v.toFixed(2) },
    splitLine: { show: true, showMinLine: false, showMaxLine: false, lineStyle: { color: '#b0b0b0', width: 1 } }
  };
}

function makeSeries(runs, colors, axisIndex) {
  return runs.map((run, k) => ({
    type: 'line',
    xAxisIndex: axisIndex,
    yAxisIndex: axisIndex,
    data: toPoints(run),
    showSymbol: false,
    symbol: 'none',
    clip: true,
    silent: true,
    lineStyle: { width: 2, color: colors[k] },
    itemStyle: { color: colors[k] }
  }));
}

const chart = echarts.init(document.getElementById('chart'), null, { renderer: 'canvas' });

chart.setOption({
  animation: false,
  backgroundColor: '#ffffff',
  textStyle: { fontFamily: FONT },
  title: [
    { text: 'Average Training Loss', left: 500, top: 19, textAlign: 'center', padding: 0,
      textStyle: { fontFamily: FONT, fontSize: 16, fontWeight: 'normal', color: '#000' } },
    { text: 'LR held constant', left: 512, top: 98, textAlign: 'center', padding: 0,
      textStyle: { fontFamily: FONT, fontSize: 16, fontWeight: 'normal', color: '#000' } },
    { text: 'Weight_Decay held constant', left: 512, top: 517, textAlign: 'center', padding: 0,
      textStyle: { fontFamily: FONT, fontSize: 16, fontWeight: 'normal', color: '#000' } }
  ],
  grid: [
    { left: 125, top: 120, width: 774, height: 350, show: true, borderColor: '#000', borderWidth: 1, backgroundColor: 'transparent' },
    { left: 125, top: 540, width: 774, height: 350, show: true, borderColor: '#000', borderWidth: 1, backgroundColor: 'transparent' }
  ],
  xAxis: [makeXAxis(0), makeXAxis(1)],
  yAxis: [makeYAxis(0), makeYAxis(1)],
  series: makeSeries(lrRuns, lrColors, 0).concat(makeSeries(wdRuns, wdColors, 1))
});
</script>
</body>
</html>
